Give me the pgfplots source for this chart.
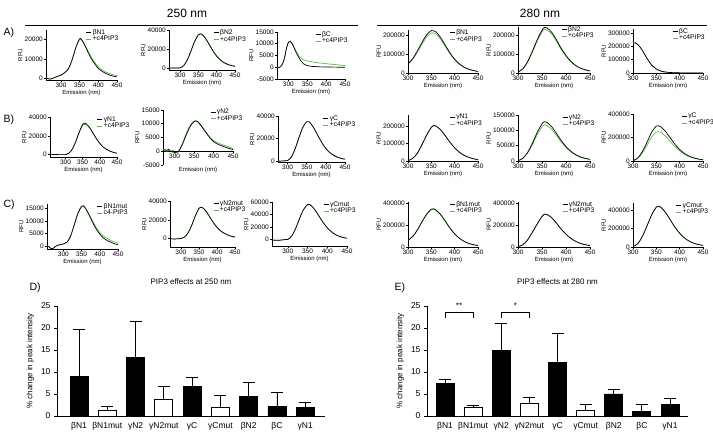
\documentclass[border=0pt]{standalone}
\usepackage{fontspec}
\setmainfont{Liberation Sans}
\usepackage{pgfplots}
\pgfplotsset{compat=1.18}
\definecolor{grn}{RGB}{85,190,65}
\newcommand{\fs}[1]{\fontsize{#1}{#1}\selectfont}
\pgfplotsset{
 spec/.style={
   scale only axis, axis lines*=left, tick align=outside, major tick length=2pt,
   tick style={black, line width=0.5pt},
   axis line style={line width=0.6pt, black},
   xmax=450, xtick={300,350,400,450},
   ticklabel style={font=\fs{6.5}, inner sep=1pt},
   xlabel={Emission (nm)}, ylabel={RFU},
   label style={font=\fs{6}},
   xlabel style={inner sep=1pt},
   ylabel style={inner sep=1pt},
   /pgf/number format/assume math mode=true,
   /pgf/number format/1000 sep={},
   /pgf/number format/fixed,
   scaled y ticks=false,
   legend style={draw=none, fill=none, anchor=north west, font=\fs{6.7}, inner sep=0pt, row sep=-1.5pt, nodes={inner sep=1pt}},
   legend cell align=left,
   legend image code/.code={\draw[##1, line width=0.8pt] (0pt,0pt) -- (5pt,0pt);},
   every axis plot/.append style={line width=0.7pt, smooth, no markers},
 },
 lg/.style={legend style={at={(#1,1.04)}}},
 pos/.style n args={4}{at={(#1pt,#2pt)}, anchor=south west, width=#3pt, height=#4pt},
 bars/.style={
   scale only axis, axis lines*=left, tick align=outside, major tick length=3pt,
   axis line style={line width=0.9pt, black},
   y tick style={line width=0.8pt, black}, x tick style={draw=none},
   ymin=0, ymax=25, ytick={0,5,10,15,20,25},
   xtick={0,...,8}, xticklabels={βN1,βN1mut,γN2,γN2mut,γC,γCmut,βN2,βC,γN1},
   ticklabel style={font=\fs{8.5}},
   /pgf/number format/assume math mode=true,
   ylabel={\% change in peak intensity}, ylabel style={font=\fs{8}},
   title style={font=\fs{8}, yshift=12pt},
   ybar, bar width=18pt, clip=false,
 },
 bk/.style={fill=black, draw=black, line width=0.8pt, bar shift=0pt,
   error bars/.cd, y dir=plus, y explicit,
   error bar style={line width=0.8pt, black},
   error mark options={rotate=90, mark size=6pt, line width=0.8pt, black}},
 wt/.style={fill=white, draw=black, line width=0.8pt, bar shift=0pt,
   error bars/.cd, y dir=plus, y explicit,
   error bar style={line width=0.8pt, black},
   error mark options={rotate=90, mark size=6pt, line width=0.8pt, black}},
}
\begin{document}
\begin{tikzpicture}[x=1pt,y=1pt]
\path[use as bounding box] (0,0) rectangle (713,433);
% headers
\node[font=\fs{12}] at (187,420) {250 nm};
\node[font=\fs{12}] at (540,420) {280 nm};
\draw[line width=0.8pt] (25,408) -- (358,408);
\draw[line width=0.8pt] (377,408) -- (707,408);
\node[font=\fs{10.5}, anchor=west] at (0,400) {A)};
\node[font=\fs{10.5}, anchor=west] at (0,313) {B)};
\node[font=\fs{10.5}, anchor=west] at (0,228) {C)};
\node[font=\fs{10.5}, anchor=west] at (26,145) {D)};
\node[font=\fs{10.5}, anchor=west] at (391,145) {E)};

% ---------- Row A ----------
\begin{axis}[spec, pos={46}{353}{71}{50}, xmin=260, ymin=-1000, ymax=25000, ytick={0,10000,20000}, lg=0.56]
\addlegendimage{black}\addlegendentry{βN1}
\addlegendimage{grn}\addlegendentry{+c4PIP3}
\addplot[grn, forget plot] coordinates {(260,300)(270,-500)(280,100)(290,900)(300,1600)(310,2900)(320,5000)(330,9800)(340,16000)(350,20000)(355,19800)(360,18700)(370,15000)(380,11300)(390,8300)(400,5900)(410,4300)(420,3100)(430,2300)(440,1700)(450,1200)};
\addplot[black, forget plot] coordinates {(260,200)(270,-600)(280,0)(290,800)(300,1500)(310,2800)(320,4800)(330,9500)(340,16000)(350,20500)(355,20000)(360,18500)(370,14500)(380,10500)(390,7500)(400,5000)(410,3500)(420,2400)(430,1600)(440,1000)(450,600)};
\end{axis}

\begin{axis}[spec, pos={169}{363}{66}{40}, xmin=270, ymin=-2000, ymax=40000, ytick={0,20000,40000}, lg=0.67]
\addlegendimage{black}\addlegendentry{βN2}
\addlegendimage{grn}\addlegendentry{+c4PIP3}
\addplot[grn, forget plot] coordinates {(270,0)(280,0)(290,0)(300,300)(310,2600)(320,8600)(330,18000)(340,28000)(350,35000)(355,35800)(360,35300)(370,31000)(380,24700)(390,18300)(400,12800)(410,8800)(420,6000)(430,4100)(440,2900)(450,2100)};
\addplot[black, forget plot] coordinates {(270,0)(280,0)(290,0)(300,200)(310,2500)(320,8500)(330,18000)(340,28000)(350,35000)(355,36000)(360,35500)(370,31000)(380,24500)(390,18000)(400,12500)(410,8500)(420,5700)(430,3800)(440,2600)(450,1800)};
\end{axis}

\begin{axis}[spec, pos={277}{354}{68}{47}, xmin=270, ymin=-5000, ymax=15000, ytick={-5000,0,5000,10000,15000}, lg=0.56]
\addlegendimage{black}\addlegendentry{βC}
\addlegendimage{grn}\addlegendentry{+c4PIP3}
\addplot[grn, forget plot] coordinates {(270,-200)(275,-100)(280,400)(285,1600)(290,4200)(295,8200)(300,10800)(305,11200)(310,10300)(315,8700)(320,7000)(330,4500)(340,3200)(350,2700)(360,2400)(370,2100)(380,1900)(390,1700)(400,1500)(420,1200)(450,700)};
\addplot[black, forget plot] coordinates {(270,-300)(275,-200)(280,300)(285,1500)(290,4000)(295,8000)(300,10500)(305,11000)(310,10000)(315,8300)(320,6500)(330,3500)(340,1500)(350,700)(360,400)(380,200)(400,100)(450,0)};
\end{axis}

\begin{axis}[spec, pos={408}{360}{70}{43}, xmin=300, ymin=0, ymax=225000, ytick={0,100000,200000}, lg=0.59]
\addlegendimage{black}\addlegendentry{βN1}
\addlegendimage{grn}\addlegendentry{+c4PIP3}
\addplot[grn, forget plot] coordinates {(300,46000)(310,71000)(320,109000)(330,151000)(340,189000)(350,210000)(355,209000)(360,204000)(370,176000)(380,138000)(390,100000)(400,69000)(410,46000)(420,30000)(430,19500)(440,12500)(450,8000)};
\addplot[black, forget plot] coordinates {(300,48000)(310,75000)(320,115000)(330,160000)(340,200000)(350,222000)(355,221000)(360,215000)(370,185000)(380,145000)(390,105000)(400,72000)(410,48000)(420,31000)(430,20000)(440,13000)(450,8000)};
\end{axis}

\begin{axis}[spec, pos={518}{360}{72}{46}, xmin=300, ymin=0, ymax=242000, ytick={0,100000,200000}, lg=0.6]
\addlegendimage{black}\addlegendentry{βN2}
\addlegendimage{grn}\addlegendentry{+c4PIP3}
\addplot[grn, forget plot] coordinates {(300,5000)(310,21000)(320,57000)(330,110000)(340,167000)(350,215000)(355,229000)(360,227000)(370,205000)(380,167000)(390,124000)(400,88000)(410,59000)(420,38000)(430,25000)(440,16000)(450,10000)};
\addplot[black, forget plot] coordinates {(300,5000)(310,22000)(320,60000)(330,115000)(340,175000)(350,225000)(355,240000)(360,238000)(370,215000)(380,175000)(390,130000)(400,92000)(410,62000)(420,40000)(430,26000)(440,17000)(450,11000)};
\end{axis}

\begin{axis}[spec, pos={633}{360}{70}{44}, xmin=300, ymin=0, ymax=330000, ytick={0,100000,200000,300000}, lg=0.56]
\addlegendimage{black}\addlegendentry{βC}
\addlegendimage{grn}\addlegendentry{+c4PIP3}
\addplot[grn, forget plot] coordinates {(300,224000)(305,225000)(310,214000)(315,194000)(320,169000)(330,110000)(340,60000)(350,30000)(360,14000)(370,7000)(380,3500)(390,2000)(400,1000)(420,300)(450,0)};
\addplot[black, forget plot] coordinates {(300,225000)(305,226000)(310,215000)(315,195000)(320,170000)(330,110000)(340,60000)(350,30000)(360,14000)(370,7000)(380,3500)(390,2000)(400,1000)(420,300)(450,0)};
\end{axis}

% ---------- Row B ----------
\begin{axis}[spec, pos={50}{276}{67}{40}, xmin=255, ymin=-2500, ymax=40000, ytick={0,20000,40000}, lg=0.7]
\addlegendimage{black}\addlegendentry{γN1}
\addlegendimage{grn}\addlegendentry{+c4PIP3}
\addplot[grn, forget plot] coordinates {(255,0)(260,0)(270,200)(280,0)(290,0)(300,0)(310,1400)(320,5800)(330,13500)(340,23300)(350,31000)(355,32200)(360,31900)(370,28500)(380,22800)(390,17000)(400,12000)(410,8100)(420,5600)(430,3700)(440,2400)(450,1600)};
\addplot[black, forget plot] coordinates {(255,0)(260,0)(270,300)(280,0)(290,0)(300,0)(310,1500)(320,6000)(330,14000)(340,24000)(350,32000)(355,33500)(360,33000)(370,29000)(380,23000)(390,17000)(400,12000)(410,8000)(420,5500)(430,3600)(440,2300)(450,1500)};
\end{axis}

\begin{axis}[spec, pos={163}{268}{70}{55}, xmin=270, ymin=-5000, ymax=15000, ytick={-5000,0,5000,10000,15000}, lg=0.67,
  axis x line*=middle, axis y line*=left, hide obscured y ticks=false,
  xlabel style={at={(axis description cs:0.5,-0.01)}, anchor=north}]
\addlegendimage{black}\addlegendentry{γN2}
\addlegendimage{grn}\addlegendentry{+c4PIP3}
\addplot[grn, forget plot] coordinates {(270,800)(275,300)(280,0)(285,400)(290,0)(295,-400)(300,-800)(305,-600)(310,-300)(315,1000)(320,2800)(330,6500)(340,9500)(350,11000)(355,11100)(360,10500)(370,8700)(380,6800)(390,5100)(400,3900)(410,3100)(420,2500)(430,2000)(440,1500)(450,1000)};
\addplot[black, forget plot] coordinates {(270,200)(275,600)(280,300)(285,700)(290,-200)(295,200)(300,-500)(305,-300)(310,0)(315,1200)(320,2500)(330,6000)(340,9000)(350,10800)(355,11000)(360,10700)(370,9000)(380,7000)(390,5000)(400,3500)(410,2600)(420,2000)(430,1500)(440,1000)(450,600)};
\end{axis}

\begin{axis}[spec, pos={278}{271}{67}{46}, xmin=275, ymin=-1000, ymax=40000, ytick={0,20000,40000}, lg=0.67]
\addlegendimage{black}\addlegendentry{γC}
\addlegendimage{grn}\addlegendentry{+c4PIP3}
\addplot[grn, forget plot] coordinates {(275,0)(280,-300)(290,0)(300,300)(310,3500)(320,11000)(330,21000)(340,30000)(350,35000)(355,35000)(360,33500)(370,28500)(380,22000)(390,16000)(400,11000)(410,7500)(420,5000)(430,3300)(440,2200)(450,1500)};
\addplot[black, forget plot] coordinates {(275,0)(280,-300)(290,0)(300,300)(310,3500)(320,11000)(330,21000)(340,30000)(350,35000)(355,35000)(360,33500)(370,28500)(380,22000)(390,16000)(400,11000)(410,7500)(420,5000)(430,3300)(440,2200)(450,1500)};
\end{axis}

\begin{axis}[spec, pos={408}{272}{70}{46}, xmin=300, ymin=0, ymax=265000, ytick={0,100000,200000}, lg=0.59]
\addlegendimage{black}\addlegendentry{γN1}
\addlegendimage{grn}\addlegendentry{+c4PIP3}
\addplot[grn, forget plot] coordinates {(300,2000)(310,14500)(320,44000)(330,93000)(340,148000)(350,193000)(355,203000)(360,200000)(370,179000)(380,144000)(390,107000)(400,75000)(410,50000)(420,33000)(430,21000)(440,13000)(450,8000)};
\addplot[black, forget plot] coordinates {(300,2000)(310,15000)(320,45000)(330,95000)(340,150000)(350,195000)(355,205000)(360,202000)(370,180000)(380,145000)(390,108000)(400,76000)(410,51000)(420,33000)(430,21000)(440,13000)(450,8000)};
\end{axis}

\begin{axis}[spec, pos={518}{272}{72}{46}, xmin=300, ymin=0, ymax=150000, ytick={0,50000,100000,150000}, lg=0.61]
\addlegendimage{black}\addlegendentry{γN2}
\addlegendimage{grn}\addlegendentry{+c4PIP3}
\addplot[grn, forget plot] coordinates {(300,1000)(310,8300)(320,26000)(330,53000)(340,86000)(350,111000)(355,118000)(360,116000)(370,103000)(380,83000)(390,62000)(400,44000)(410,30000)(420,19500)(430,12500)(440,8000)(450,5000)};
\addplot[black, forget plot] coordinates {(300,1000)(310,9000)(320,28000)(330,58000)(340,93000)(350,121000)(355,128000)(360,126000)(370,112000)(380,90000)(390,67000)(400,47000)(410,32000)(420,21000)(430,13500)(440,8500)(450,5500)};
\end{axis}

\begin{axis}[spec, pos={633}{272}{70}{47}, xmin=300, ymin=0, ymax=400000, ytick={0,200000,400000}, lg=0.69]
\addlegendimage{black}\addlegendentry{γC}
\addlegendimage{grn}\addlegendentry{+c4PIP3}
\addplot[grn, forget plot] coordinates {(300,3000)(310,21000)(320,67000)(330,134000)(340,204000)(350,247000)(355,250000)(360,242000)(370,210000)(380,165000)(390,122000)(400,86000)(410,58000)(420,38000)(430,25000)(440,16000)(450,10000)};
\addplot[black, forget plot] coordinates {(300,3000)(310,25000)(320,80000)(330,160000)(340,245000)(350,297000)(355,300000)(360,290000)(370,250000)(380,195000)(390,142000)(400,98000)(410,65000)(420,42000)(430,27000)(440,17000)(450,10000)};
\end{axis}

% ---------- Row C ----------
\begin{axis}[spec, pos={47}{184}{71}{45}, xmin=255, ymin=-1200, ymax=16700, ytick={0,5000,10000,15000}, lg=0.7]
\addlegendimage{black}\addlegendentry{βN1mut}
\addlegendimage{grn}\addlegendentry{c4-PIP3}
\addplot[grn, forget plot] coordinates {(255,0)(260,-300)(265,-1000)(270,-1100)(275,-500)(280,0)(290,500)(300,800)(310,1500)(320,4000)(330,8500)(340,13000)(350,15600)(355,15800)(360,15100)(370,12800)(380,10000)(390,7400)(400,5400)(410,4000)(420,3000)(430,2200)(440,1600)(450,1100)};
\addplot[black, forget plot] coordinates {(255,0)(260,-200)(265,-900)(270,-1100)(275,-600)(280,0)(290,500)(300,800)(310,1500)(320,4000)(330,8500)(340,13000)(350,15800)(355,16000)(360,15200)(370,12500)(380,9500)(390,6800)(400,4700)(410,3200)(420,2200)(430,1500)(440,900)(450,500)};
\end{axis}

\begin{axis}[spec, pos={170}{186}{65}{46}, xmin=270, ymin=-9000, ymax=40000, ytick={0,20000,40000}, lg=0.66]
\addlegendimage{black}\addlegendentry{γN2mut}
\addlegendimage{grn}\addlegendentry{+c4PIP3}
\addplot[grn, forget plot] coordinates {(270,0)(280,-500)(290,-300)(300,0)(310,1500)(320,6000)(330,14000)(340,24000)(350,32000)(355,33500)(360,33000)(370,29000)(380,23100)(390,17200)(400,12200)(410,8400)(420,5800)(430,3900)(440,2600)(450,1800)};
\addplot[black, forget plot] coordinates {(270,0)(280,-500)(290,-300)(300,0)(310,1500)(320,6000)(330,14000)(340,24000)(350,32000)(355,33500)(360,33000)(370,29000)(380,23000)(390,17000)(400,12000)(410,8200)(420,5600)(430,3700)(440,2400)(450,1600)};
\end{axis}

\begin{axis}[spec, pos={272}{187}{75}{44}, xmin=260, ymin=-10000, ymax=60000, ytick={0,20000,40000,60000}, lg=0.68]
\addlegendimage{black}\addlegendentry{γCmut}
\addlegendimage{grn}\addlegendentry{+c4PIP3}
\addplot[grn, forget plot] coordinates {(260,0)(265,-800)(270,-1000)(280,-800)(290,0)(300,500)(310,6000)(320,18000)(330,34000)(340,48000)(350,56000)(355,56000)(360,54000)(370,46500)(380,36500)(390,27000)(400,19000)(410,13000)(420,8500)(430,5500)(440,3500)(450,2300)};
\addplot[black, forget plot] coordinates {(260,0)(265,-800)(270,-1000)(280,-800)(290,0)(300,500)(310,6000)(320,18000)(330,34000)(340,48000)(350,56000)(355,56000)(360,54000)(370,46500)(380,36500)(390,27000)(400,19000)(410,13000)(420,8500)(430,5500)(440,3500)(450,2300)};
\end{axis}

\begin{axis}[spec, pos={408}{186}{70}{45}, xmin=300, ymin=0, ymax=410000, ytick={0,200000,400000}, lg=0.59]
\addlegendimage{black}\addlegendentry{βN1mut}
\addlegendimage{grn}\addlegendentry{+c4PIP3}
\addplot[grn, forget plot] coordinates {(300,62000)(310,94000)(320,153000)(330,227000)(340,296000)(350,340000)(355,343000)(360,334000)(370,292000)(380,233000)(390,171000)(400,119000)(410,80000)(420,52000)(430,33000)(440,21000)(450,13000)};
\addplot[black, forget plot] coordinates {(300,62000)(310,95000)(320,155000)(330,230000)(340,300000)(350,345000)(355,348000)(360,338000)(370,295000)(380,235000)(390,172000)(400,120000)(410,80000)(420,52000)(430,33000)(440,21000)(450,13000)};
\end{axis}

\begin{axis}[spec, pos={518}{186}{72}{45}, xmin=300, ymin=0, ymax=410000, ytick={0,200000,400000}, lg=0.61]
\addlegendimage{black}\addlegendentry{γN2mut}
\addlegendimage{grn}\addlegendentry{+c4PIP3}
\addplot[grn, forget plot] coordinates {(300,3000)(310,20000)(320,64000)(330,133000)(340,208000)(350,277000)(355,297000)(360,295000)(370,266000)(380,217000)(390,162000)(400,116000)(410,79000)(420,52000)(430,33000)(440,21000)(450,13000)};
\addplot[black, forget plot] coordinates {(300,3000)(310,20000)(320,65000)(330,135000)(340,210000)(350,280000)(355,300000)(360,298000)(370,268000)(380,218000)(390,163000)(400,116000)(410,79000)(420,52000)(430,33000)(440,21000)(450,13000)};
\end{axis}

\begin{axis}[spec, pos={633}{186}{70}{44}, xmin=300, ymin=0, ymax=480000, ytick={0,200000,400000}, lg=0.61]
\addlegendimage{black}\addlegendentry{γCmut}
\addlegendimage{grn}\addlegendentry{+c4PIP3}
\addplot[grn, forget plot] coordinates {(300,5000)(310,35000)(320,115000)(330,230000)(340,350000)(350,435000)(355,445000)(360,432000)(370,375000)(380,295000)(390,215000)(400,150000)(410,100000)(420,65000)(430,42000)(440,27000)(450,17000)};
\addplot[black, forget plot] coordinates {(300,5000)(310,35000)(320,115000)(330,230000)(340,350000)(350,435000)(355,445000)(360,432000)(370,375000)(380,295000)(390,215000)(400,150000)(410,100000)(420,65000)(430,42000)(440,27000)(450,17000)};
\end{axis}

% ---------- Bar charts ----------
\begin{axis}[bars, at={(57pt,17pt)}, anchor=south west, width=268pt, height=110pt,
  xmin=-0.78, xmax=8.7, title={PIP3 effects at 250 nm}]
\addplot[bk] coordinates {(0,9.04) +- (0,10.66) (2,13.4) +- (0,8.1) (4,6.63) +- (0,2.17) (6,4.37) +- (0,3.31) (7,2.1) +- (0,3.32) (8,1.88) +- (0,1.28)};
\addplot[wt] coordinates {(1,1.36) +- (0,0.9) (3,3.77) +- (0,2.86) (5,1.88) +- (0,2.79)};
\end{axis}

\begin{axis}[bars, at={(427pt,17pt)}, anchor=south west, width=261pt, height=110pt,
  xmin=-0.64, xmax=8.64, title={PIP3 effects at 280 nm}]
\addplot[bk] coordinates {(0,7.41) +- (0,0.97) (2,14.97) +- (0,6.06) (4,12.13) +- (0,6.73) (6,5.01) +- (0,1.13) (7,1.05) +- (0,1.49) (8,2.62) +- (0,1.42)};
\addplot[wt] coordinates {(1,2.02) +- (0,0.38) (3,2.77) +- (0,1.5) (5,1.27) +- (0,1.35)};
\draw[line width=0.8pt] (axis cs:0,22.3) -- (axis cs:0,23.6) -- (axis cs:1,23.6) -- (axis cs:1,22.3);
\draw[line width=0.8pt] (axis cs:2,22.3) -- (axis cs:2,23.6) -- (axis cs:3,23.6) -- (axis cs:3,22.3);
\node[font=\fs{8}, anchor=south] at (axis cs:0.5,23.7) {**};
\node[font=\fs{8}, anchor=south] at (axis cs:2.5,23.7) {*};
\end{axis}
\end{tikzpicture}
\end{document}
